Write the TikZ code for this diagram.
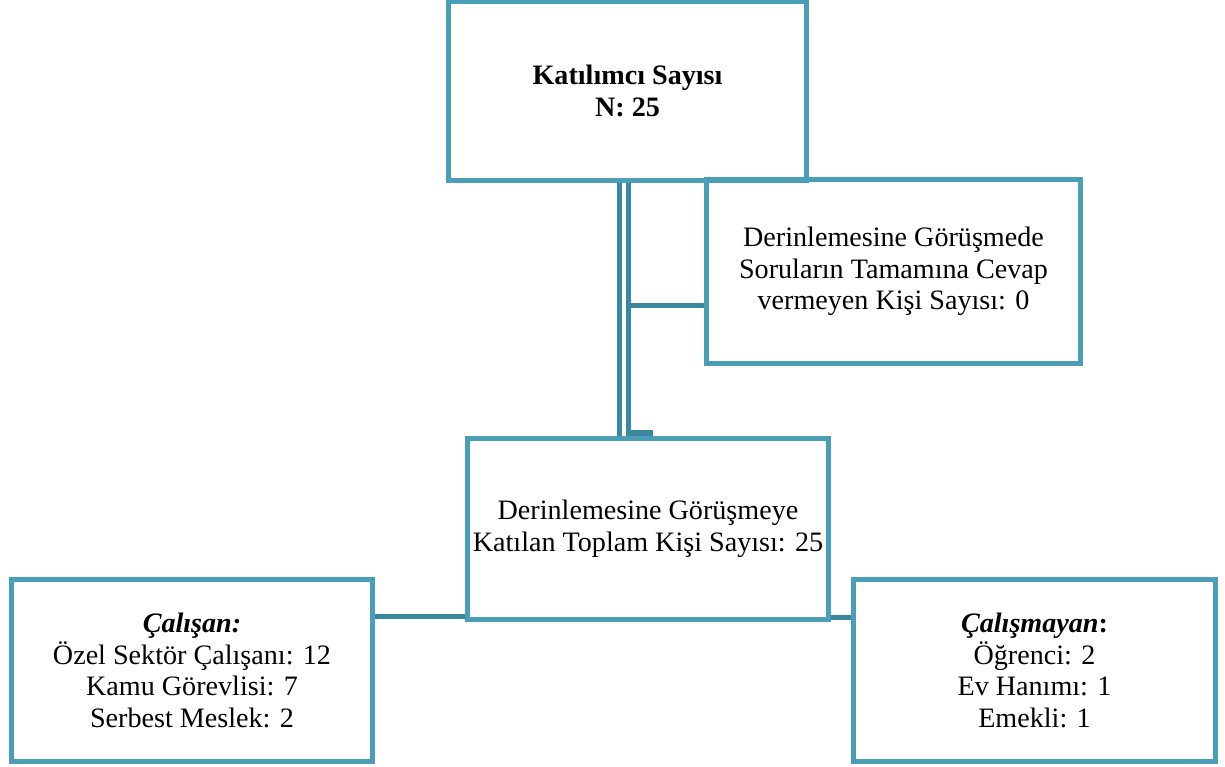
\documentclass[tikz,border=0pt]{standalone}
\usepackage{fontspec}
\setmainfont{Liberation Serif}
\definecolor{boxline}{HTML}{4A9FB7}
\definecolor{linkline}{HTML}{3A88A0}
\tikzset{
  infobox/.style={draw=boxline, line width=0.125cm, rectangle, inner sep=0pt,
    align=center, minimum width=#1, font=\fontsize{20}{22.5}\selectfont},
  link/.style={draw=linkline, line width=0.125cm}
}
\begin{document}
\begin{tikzpicture}[x=0.025cm,y=-0.025cm]
\useasboundingbox (0,0) rectangle (1225,767);
\node[infobox=8.95cm, minimum height=4.45cm] (total) at (627.5,91) {\textbf{Katılımcı Sayısı}\\\textbf{N: 25}};
\node[infobox=9.35cm, minimum height=4.6cm] (missing) at (893.5,271.5) {Derinlemesine Görüşmede\\Soruların Tamamına Cevap\\vermeyen Kişi Sayısı: 0};
\node[infobox=9.025cm, minimum height=4.525cm] (joined) at (648,529) {Derinlemesine Görüşmeye\\Katılan Toplam Kişi Sayısı: 25};
\node[infobox=9.025cm, minimum height=4.55cm] (working) at (192,670.5) {\textbf{\textit{Çalışan:}}\\Özel Sektör Çalışanı: 12\\Kamu Görevlisi: 7\\Serbest Meslek: 2};
\node[infobox=9.05cm, minimum height=4.55cm] (notworking) at (1034.5,670.5) {\textbf{\textit{Çalışmayan}:}\\Öğrenci: 2\\Ev Hanımı: 1\\Emekli: 1};
% junction points
\coordinate (lineA) at (619,300);
\coordinate (lineB) at (628,306);
\coordinate (bump) at (628,433);
\coordinate (leftJ) at (0,616);
\coordinate (rightJ) at (0,617);
\draw[link] (total.south -| lineA) -- (joined.north -| lineA);
\draw[link] (total.south -| lineB) -- (joined.north -| lineB);
\draw[link] (lineB) -- (lineB -| missing.west);
\draw[link] (bump) -| ([xshift=0.05cm]joined.north);
\draw[link] (working.east |- leftJ) -- (joined.west |- leftJ);
\draw[link] (joined.east |- rightJ) -- (notworking.west |- rightJ);
\end{tikzpicture}
\end{document}
